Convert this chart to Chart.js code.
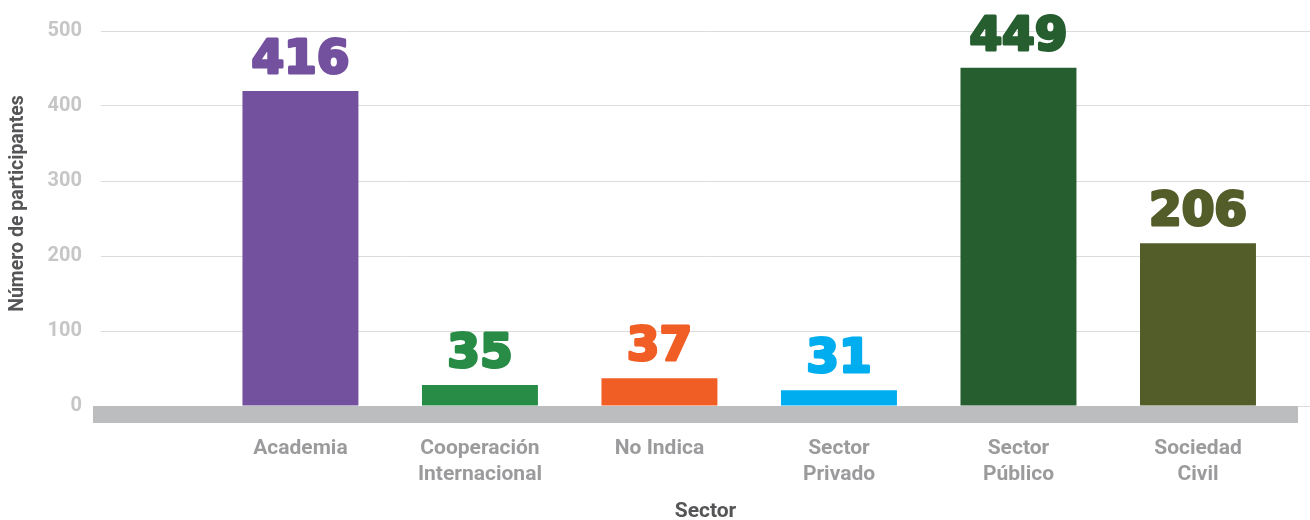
<!DOCTYPE html>
<html>
<head>
<meta charset="utf-8">
<script src="https://cdn.jsdelivr.net/npm/chart.js@4/dist/chart.umd.min.js"></script>
<style>
  html, body { margin: 0; padding: 0; background: #ffffff; }
  #wrap { width: 1310px; height: 520px; position: relative; }
</style>
</head>
<body>
<div id="wrap"><canvas id="c"></canvas></div>
<script>
// ---- data ----
const categories = [
  ['Academia'],
  ['Cooperación', 'Internacional'],
  ['No Indica'],
  ['Sector', 'Privado'],
  ['Sector', 'Público'],
  ['Sociedad', 'Civil']
];
const barValues = [420, 28, 37, 21, 451, 217];
const valueLabels = ['416', '35', '37', '31', '449', '206'];
const barColors = ['#74519f', '#288c46', '#f05e26', '#00aeef', '#265e30', '#535d2a'];
const yTicks = [0, 100, 200, 300, 400, 500];
const yTitle = 'Número de participantes';
const xTitle = 'Sector';

const points = barValues.map((v, i) => ({ x: i, y: v }));

const bandPlugin = {
  id: 'band',
  beforeDatasetsDraw(chart) {
    const { ctx, chartArea, scales } = chart;
    const y0 = scales.y.getPixelForValue(0);
    ctx.save();
    ctx.fillStyle = '#bcbdbf';
    ctx.fillRect(chartArea.left - 8, y0, (chartArea.right - 12) - (chartArea.left - 8), 17);
    ctx.restore();
  }
};

const yTitlePlugin = {
  id: 'yTitle',
  afterDraw(chart) {
    const { ctx, scales } = chart;
    const s = scales.y;
    ctx.save();
    ctx.translate(s.left + 18.5, (s.top + s.bottom) / 2 - 15);
    ctx.rotate(-Math.PI / 2);
    ctx.font = 'bold 19.5px Roboto';
    ctx.fillStyle = '#555557';
    ctx.textAlign = 'center';
    ctx.textBaseline = 'middle';
    ctx.fillText(yTitle, 0, 0);
    ctx.restore();
  }
};

const labelPlugin = {
  id: 'valueLabels',
  afterDatasetsDraw(chart) {
    const { ctx } = chart;
    const meta = chart.getDatasetMeta(0);
    ctx.save();
    ctx.font = 'bold 47px "DejaVu Sans"';
    ctx.textAlign = 'center';
    ctx.textBaseline = 'alphabetic';
    meta.data.forEach((bar, i) => {
      ctx.fillStyle = barColors[i];
      ctx.strokeStyle = barColors[i];
      ctx.lineWidth = 3;
      ctx.lineJoin = 'round';
      ctx.strokeText(valueLabels[i], bar.x, bar.y - 18);
      ctx.fillText(valueLabels[i], bar.x, bar.y - 18);
    });
    ctx.restore();
  }
};

new Chart(document.getElementById('c'), {
  type: 'bar',
  data: {
    datasets: [{
      data: points,
      backgroundColor: barColors,
      borderWidth: 0,
      barPercentage: 0.646,
      categoryPercentage: 1
    }]
  },
  options: {
    responsive: true,
    maintainAspectRatio: false,
    animation: false,
    layout: { padding: { top: 30, right: 0, left: 0, bottom: 0 } },
    plugins: { legend: { display: false }, tooltip: { enabled: false } },
    scales: {
      x: {
        type: 'linear',
        bounds: 'data',
        offset: false,
        min: -1.111,
        max: 5.624,
        grid: { display: false, drawTicks: false, offset: false },
        border: { display: false },
        afterFit: (s) => { s.height = 114; },
        afterBuildTicks: (s) => { s.ticks = categories.map((c, i) => ({ value: i })); },
        ticks: {
          autoSkip: false,
          maxRotation: 0,
          padding: 30,
          color: '#9b9b9d',
          font: { family: 'Roboto', weight: 'bold', size: 21, lineHeight: 1.24 },
          callback: (v) => (Number.isInteger(v) && categories[v]) ? categories[v] : ''
        },
        title: {
          display: true,
          text: xTitle,
          color: '#555557',
          font: { family: 'Roboto', weight: 'bold', size: 21 },
          padding: { top: 0, bottom: -4 }
        }
      },
      y: {
        min: 0,
        max: 500,
        afterFit: (s) => { s.width = 101; },
        afterBuildTicks: (s) => { s.ticks = yTicks.map(v => ({ value: v })); },
        grid: { color: '#dcdcdc', lineWidth: 1, drawTicks: false },
        border: { display: false },
        ticks: {
          padding: 19,
          color: '#c6c6c6',
          font: { family: 'Roboto', weight: 'bold', size: 20 }
        },
        title: { display: false, text: yTitle }
      }
    }
  },
  plugins: [bandPlugin, labelPlugin, yTitlePlugin]
});
</script>
</body>
</html>
